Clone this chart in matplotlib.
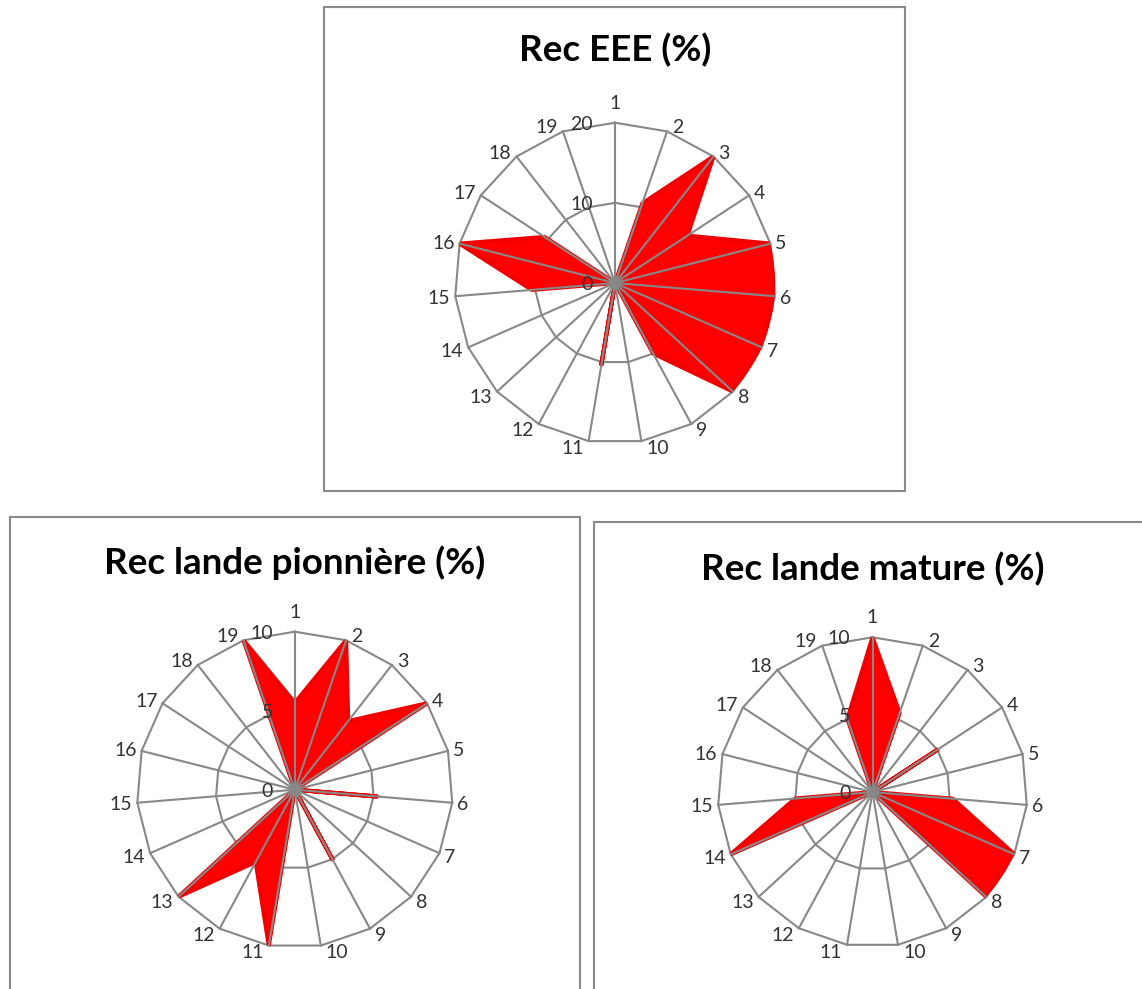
import numpy as np
import matplotlib
matplotlib.use("Agg")
import matplotlib.pyplot as plt
from matplotlib.patches import Rectangle

plt.rcParams['font.family'] = ['Lato', 'DejaVu Sans']

# data
categories = ['1', '2', '3', '4', '5', '6', '7', '8', '9', '10',
              '11', '12', '13', '14', '15', '16', '17', '18', '19']
rec_eee = [0, 10.5, 20, 10.8, 20, 20, 20, 20, 10, 0,
           10.3, 0, 0, 0, 10.4, 20, 10.5, 0, 0]
rec_pionniere = [5.5, 10, 5.5, 10, 0, 5.2, 0, 0, 5, 0,
                 10, 5.2, 10, 0, 0, 0, 0, 0, 10]
rec_mature = [10, 5.4, 0, 5, 0, 5.2, 10, 10, 0, 0,
              0, 0, 0, 10, 5, 0, 0, 0, 5]
eee_ticks = [0, 10, 20]
lande_ticks = [0, 5, 10]

W, H = 1142, 989
GRID = '#888888'
TXT = '#333333'
PX = 72 / 100  # pixels -> points

fig = plt.figure(figsize=(W / 100, H / 100), dpi=100)


def radar(cx, cy, R, values, ticks, title, title_y):
    ax = fig.add_axes([(cx - R) / W, 1 - (cy + R) / H, 2 * R / W, 2 * R / H],
                      projection='polar')
    ax.set_theta_zero_location('N')
    ax.set_theta_direction(-1)
    ax.set_xticks([])
    ax.set_yticks([])
    ax.grid(False)
    ax.spines['polar'].set_visible(False)
    ax.patch.set_visible(False)
    rmax = ticks[-1]
    ax.set_ylim(0, rmax)

    n = len(categories)
    theta = np.linspace(0, 2 * np.pi, n, endpoint=False)
    tc = np.append(theta, theta[0])

    # rings
    for r in ticks[1:]:
        ax.plot(tc, [r] * (n + 1), color=GRID, lw=1.5, zorder=1, clip_on=False)

    # series
    vc = np.append(values, values[0])
    ax.fill(tc, vc, facecolor='#ff0000', edgecolor='#f00000', lw=3,
            joinstyle='round', zorder=2)

    # spokes
    for t in theta:
        ax.plot([t, t], [0, rmax], color=GRID, lw=1.5, zorder=3, clip_on=False)
    ax.plot(0, ticks[0], 'o', ms=7, color=GRID, zorder=4, clip_on=False)

    # category labels, placed beside the tip like Excel does
    for t, lab in zip(theta, categories):
        s, c = np.sin(t), np.cos(t)
        if abs(s) < 0.01:
            ha, dx, dy = 'center', 0, 21
        else:
            ha = 'left' if s > 0 else 'right'
            dx = 5 if s > 0 else -5
            dy = c * 6
        ax.annotate(lab, xy=(t, rmax), xytext=(dx * PX, dy * PX),
                    textcoords='offset points', ha=ha, va='center_baseline',
                    fontsize=14, color=TXT, annotation_clip=False)

    # radial ticks
    for r in ticks:
        ax.annotate(str(r), xy=(0, r), xytext=(-22 * PX, 0), textcoords='offset points',
                    ha='right', va='center_baseline', fontsize=14, color=TXT,
                    annotation_clip=False)

    fig.text(cx / W, 1 - title_y / H, title, ha='center', va='center',
             fontsize=26.5, fontweight='bold', color='black')


# frames
for x0, y0, x1, y1 in [(324, 7, 905, 491), (10, 517, 580, 995), (594, 522, 1150, 995)]:
    fig.add_artist(Rectangle((x0 / W, 1 - y1 / H), (x1 - x0) / W, (y1 - y0) / H,
                             transform=fig.transFigure, fill=False,
                             edgecolor='#8a8a8a', lw=1.5))

radar(615, 283, 160.3, rec_eee, eee_ticks, 'Rec EEE (%)', 50)
radar(294.8, 789.7, 158, rec_pionniere, lande_ticks, 'Rec lande pionnière (%)', 563)
radar(872.5, 792.1, 154.8, rec_mature, lande_ticks, 'Rec lande mature (%)', 569)

fig.savefig('out.png', dpi=100)
